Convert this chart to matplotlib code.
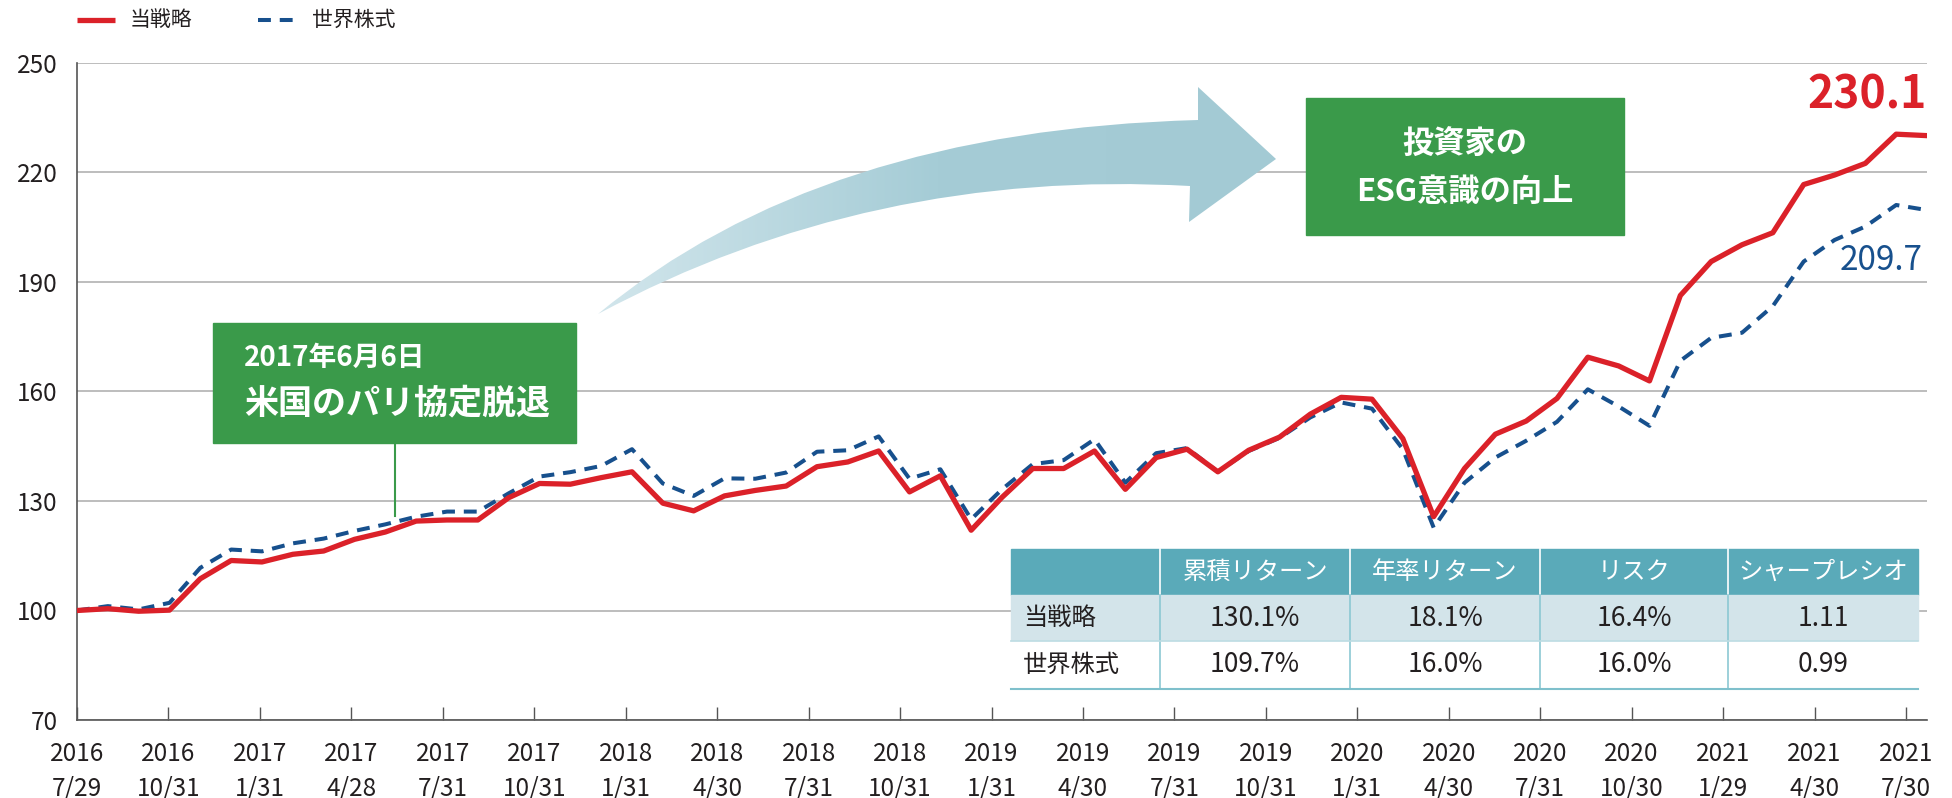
import numpy as np
import matplotlib.pyplot as plt
from matplotlib.patches import Rectangle, PathPatch
from matplotlib.path import Path
from matplotlib.colors import LinearSegmentedColormap

plt.rcParams['font.family'] = ['Noto Sans CJK JP', 'DejaVu Sans']

# monthly index values, 2016/7 .. 2021/7
strategy = [100.0, 100.5, 99.8, 100.1, 108.7, 113.7, 113.3, 115.4, 116.3, 119.5,
            121.5, 124.5, 124.8, 124.8, 130.9, 134.8, 134.6, 136.4, 138.0, 129.4,
            127.3, 131.4, 132.9, 134.1, 139.4, 140.7, 143.7, 132.5, 136.9, 122.0,
            131.0, 138.9, 138.9, 143.7, 133.2, 141.9, 144.2, 138.0, 143.9, 147.5,
            153.8, 158.4, 157.9, 147.1, 125.7, 138.9, 148.3, 151.9, 158.1, 169.4,
            167.0, 162.9, 186.3, 195.6, 200.2, 203.5, 216.7, 219.3, 222.5, 230.5,
            230.1]
world = [100.0, 101.2, 100.3, 102.1, 111.7, 116.7, 116.2, 118.4, 119.7, 121.8,
         123.6, 125.7, 127.1, 127.1, 132.1, 136.7, 137.9, 139.6, 144.2, 134.8,
         131.4, 136.2, 136.1, 137.8, 143.5, 143.9, 147.7, 136.1, 138.7, 125.0,
         133.2, 140.1, 141.2, 146.9, 135.0, 143.1, 144.5, 138.0, 143.7, 147.3,
         152.9, 157.0, 155.3, 144.2, 122.7, 135.0, 141.9, 146.5, 151.7, 160.6,
         155.9, 150.6, 168.4, 174.7, 176.1, 183.4, 195.6, 201.5, 205.2, 211.1,
         209.7]
tick_labels = ['2016\n7/29', '2016\n10/31', '2017\n1/31', '2017\n4/28', '2017\n7/31',
               '2017\n10/31', '2018\n1/31', '2018\n4/30', '2018\n7/31', '2018\n10/31',
               '2019\n1/31', '2019\n4/30', '2019\n7/31', '2019\n10/31', '2020\n1/31',
               '2020\n4/30', '2020\n7/31', '2020\n10/30', '2021\n1/29', '2021\n4/30',
               '2021\n7/30']
series_names = ['当戦略', '世界株式']
table_cols = ['累積リターン', '年率リターン', 'リスク', 'シャープレシオ']
table_vals = [['130.1%', '18.1%', '16.4%', '1.11'],
              ['109.7%', '16.0%', '16.0%', '0.99']]

RED = '#db2129'
BLUE = '#17508d'
GREEN = '#3a9a4a'
TEAL = '#5aaab9'
TXT = '#231f20'

W, H = 1952, 798
fig = plt.figure(figsize=(W / 100, H / 100), dpi=100)
ax = fig.add_axes([77 / W, 1 - 720 / H, (1927 - 77) / W, (720 - 63) / H])

months = np.arange(len(strategy))
ax.plot(months, world, color=BLUE, lw=2.9, ls=(0, (3.2, 2.2)), zorder=3)
ax.plot(months, strategy, color=RED, lw=3.8, zorder=4)
ax.set_xlim(0, len(strategy) - 1)
ax.set_ylim(70, 250)
ax.set_yticks(np.arange(70, 251, 30))
ax.grid(axis='y', color='#b8b8b8', lw=1.3)
ax.set_axisbelow(True)
for s in ['top', 'right']:
    ax.spines[s].set_visible(False)
for s in ['left', 'bottom']:
    ax.spines[s].set_color('#555555')
    ax.spines[s].set_linewidth(1.2)

# quarterly labels are spread evenly, a bit tighter than the monthly points
ax.set_xticks(np.arange(len(tick_labels)) * 2.966)
ax.set_xticklabels(tick_labels, linespacing=1.45)
ax.tick_params(axis='x', direction='in', length=9.5, width=1, color='#555555',
               pad=15, labelsize=17.5, labelcolor=TXT)
ax.tick_params(axis='y', length=0, pad=14, labelsize=17.5, labelcolor=TXT)

# end values
ax.annotate(f'{strategy[-1]:.1f}', (months[-1], strategy[-1]), xytext=(0, 29),
            textcoords='offset points', ha='right', va='center',
            fontsize=32, fontweight='bold', color=RED)
ax.annotate(f'{world[-1]:.1f}', (months[-1], world[-1]), xytext=(-3, -36),
            textcoords='offset points', ha='right', va='center',
            fontsize=24, color=BLUE)

# overlay in pixel coordinates for legend, callouts, arrow and table
ov = fig.add_axes([0, 0, 1, 1], zorder=5)
ov.set_xlim(0, W)
ov.set_ylim(H, 0)
ov.axis('off')

# legend
ov.plot([77, 115], [20, 20], color=RED, lw=3.8, solid_capstyle='butt')
ov.text(130, 20, series_names[0], fontsize=15, color=TXT, va='center')
ov.plot([258, 297], [20, 20], color=BLUE, lw=2.9, ls=(0, (3.2, 2.2)))
ov.text(312, 20, series_names[1], fontsize=15, color=TXT, va='center')

# arrow with gradient
P = Path
verts = [(598, 314), (820, 130), (1198, 120), (1198, 87), (1276, 159),
         (1189, 222), (1190, 186), (870, 168), (598, 314), (598, 314)]
codes = [P.MOVETO, P.CURVE3, P.CURVE3, P.LINETO, P.LINETO, P.LINETO, P.LINETO,
         P.CURVE3, P.CURVE3, P.CLOSEPOLY]
arrow = PathPatch(Path(verts, codes), facecolor='none', edgecolor='none')
ov.add_patch(arrow)
cmap = LinearSegmentedColormap.from_list('arr', ['#d2e6ec', '#a5ccd6', '#a3cad4'])
grad = np.linspace(0, 1, 256).reshape(1, -1)
im = ov.imshow(grad, extent=(598, 1276, 330, 80), cmap=cmap, aspect='auto')
im.set_clip_path(arrow)
ov.set_xlim(0, W)
ov.set_ylim(H, 0)

# callout 1
ov.add_patch(Rectangle((213, 323), 363, 120, color=GREEN))
ov.plot([395, 395], [443, 516], color=GREEN, lw=1.5)
ov.text(244, 358, '2017年6月6日', fontsize=20, color='white', va='center',
        fontweight='bold')
ov.text(244, 403, '米国のパリ協定脱退', fontsize=24.5, color='white', va='center',
        fontweight='bold')

# callout 2
ov.add_patch(Rectangle((1306, 98), 318, 137, color=GREEN))
ov.text(1465, 145, '投資家の', fontsize=22.5, color='white', va='center',
        ha='center', fontweight='bold')
ov.text(1465, 192, 'ESG意識の向上', fontsize=22.5, color='white', va='center',
        ha='center', fontweight='bold')

# stats table
cx = [1011, 1160, 1350, 1540, 1728, 1918]
ry = [549, 595, 641, 689]
ov.add_patch(Rectangle((cx[0], ry[0]), cx[-1] - cx[0], ry[1] - ry[0], color=TEAL))
ov.add_patch(Rectangle((cx[0], ry[1]), cx[-1] - cx[0], ry[2] - ry[1], color='#d3e4ea'))
ov.add_patch(Rectangle((cx[0], ry[2]), cx[-1] - cx[0], ry[3] - ry[2], color='white'))
for x in cx[1:-1]:
    ov.plot([x, x], [ry[0], ry[1]], color='white', lw=1.2)
    ov.plot([x, x], [ry[1], ry[3]], color='#8cc8d3', lw=1.2)
ov.plot([cx[0], cx[-1]], [ry[2], ry[2]], color='#bcdce3', lw=1.2)
ov.plot([cx[0], cx[-1]], [ry[3], ry[3]], color='#7fc0cc', lw=1.5)
for j, name in enumerate(table_cols):
    ov.text((cx[j + 1] + cx[j + 2]) / 2, (ry[0] + ry[1]) / 2, name, fontsize=17.5,
            color='white', ha='center', va='center')
for i, name in enumerate(series_names):
    yc = (ry[i + 1] + ry[i + 2]) / 2
    ov.text(cx[0] + 12, yc, name, fontsize=17.5, color=TXT, va='center')
    for j, v in enumerate(table_vals[i]):
        ov.text((cx[j + 1] + cx[j + 2]) / 2, yc, v, fontsize=19, color=TXT,
                ha='center', va='center')

fig.savefig('out.png', dpi=100)
